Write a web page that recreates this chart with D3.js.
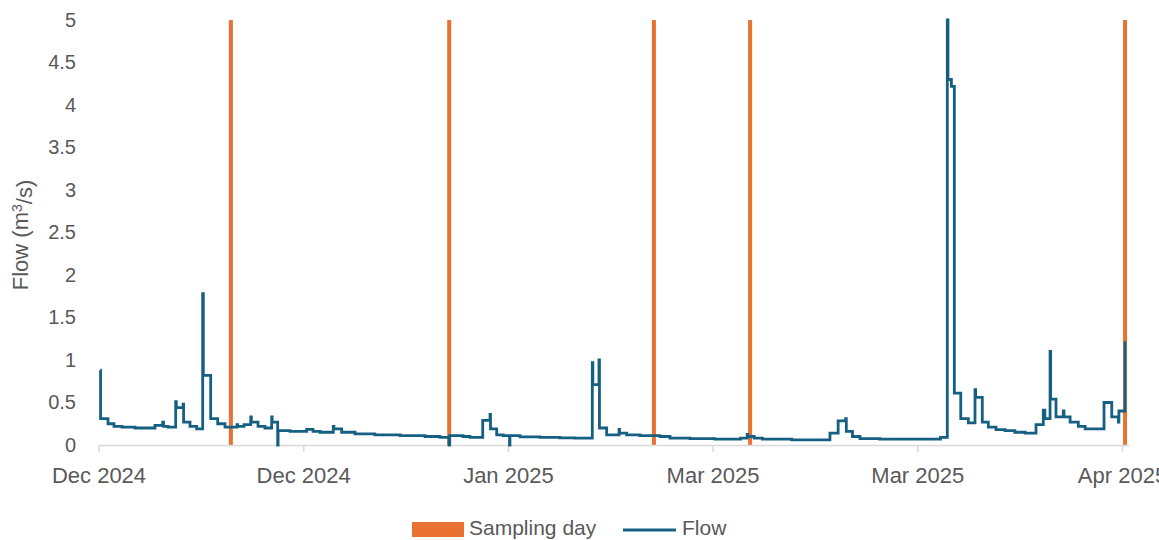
<!DOCTYPE html>
<html>
<head>
<meta charset="utf-8">
<script src="https://cdn.jsdelivr.net/npm/d3@7"></script>
<style>
  html, body { margin: 0; padding: 0; background: #fff; overflow: hidden; }
  svg { display: block; }
  text { font-family: "Liberation Sans", Arial, sans-serif; fill: #595959; }
</style>
</head>
<body>
<svg id="chart" width="1159" height="540"></svg>
<script>
// ---- data ----
const startDate = "2024-12-01";
const endDate = "2025-05-01";
const tickDates = ["2024-12-01", "2024-12-31", "2025-01-30", "2025-03-01", "2025-03-31", "2025-04-30"];
const yTicks = [0, 0.5, 1, 1.5, 2, 2.5, 3, 3.5, 4, 4.5, 5];
// sampling days (days since startDate)
const samplingDays = [19.4, 51.4, 81.4, 95.5, 150.45];
const samplingValues = [5, 5, 5, 5, 5];
// flow step series (days since startDate, m3/s)
const flowDays = [
  0.26, 0.30, 1.39, 2.27, 3.44, 5.35, 8.28, 9.41, 9.53, 10.19,
  11.31, 11.40, 12.40, 12.47, 13.41, 14.39, 15.27, 15.36, 16.44, 17.47,
  18.54, 20.30, 20.40, 21.33, 22.31, 22.40, 23.38, 24.40, 25.38, 25.45,
  26.26, 26.32, 28.07, 30.51, 31.44, 32.47, 34.41, 34.50, 35.64, 37.60,
  40.50, 44.20, 47.85, 50.05, 51.37, 51.45, 53.42, 54.44, 56.31, 57.38,
  57.45, 58.36, 59.30, 60.24, 60.30, 61.78, 64.70, 67.60, 69.80, 72.37,
  72.45, 73.35, 73.42, 74.48, 76.29, 76.36, 77.41, 79.36, 82.29, 83.76,
  86.69, 90.35, 94.10, 95.07, 95.15, 96.10, 97.30, 101.60, 107.20, 108.40,
  109.50, 109.60, 110.50, 111.60, 114.50, 118.90, 123.40, 124.40, 124.50, 125.00,
  125.43, 126.37, 127.48, 128.46, 128.55, 129.53, 130.41, 131.54, 132.86, 134.30,
  135.80, 137.40, 138.47, 138.70, 139.46, 139.55, 140.33, 141.40, 141.50, 142.40,
  143.60, 144.60, 147.37, 148.50, 149.47, 149.55, 150.45
];
const flowValues = [
  0.88, 0.31, 0.25, 0.22, 0.21, 0.20, 0.23, 0.27, 0.22, 0.21,
  0.51, 0.44, 0.48, 0.27, 0.22, 0.19, 1.78, 0.82, 0.31, 0.25,
  0.21, 0.24, 0.22, 0.24, 0.33, 0.27, 0.22, 0.20, 0.33, 0.27,
  0.00, 0.17, 0.16, 0.185, 0.16, 0.15, 0.22, 0.19, 0.15, 0.13,
  0.12, 0.11, 0.10, 0.09, 0.00, 0.11, 0.10, 0.09, 0.29, 0.36,
  0.19, 0.12, 0.11, 0.00, 0.11, 0.095, 0.09, 0.085, 0.08, 0.97,
  0.71, 1.00, 0.20, 0.12, 0.185, 0.14, 0.12, 0.11, 0.10, 0.08,
  0.075, 0.07, 0.08, 0.125, 0.10, 0.08, 0.07, 0.06, 0.14, 0.285,
  0.31, 0.16, 0.10, 0.075, 0.07, 0.07, 0.09, 5.00, 4.30, 4.22,
  0.61, 0.31, 0.26, 0.65, 0.56, 0.27, 0.21, 0.18, 0.17, 0.15,
  0.14, 0.24, 0.41, 0.31, 1.10, 0.54, 0.33, 0.40, 0.33, 0.27,
  0.22, 0.19, 0.50, 0.33, 0.27, 0.40, 1.22
];

// ---- setup ----
const parse = d3.utcParse("%Y-%m-%d");
const DAY = 86400000;
const t0 = parse(startDate);
const toDate = d => new Date(t0.getTime() + d * DAY);

const svg = d3.select("#chart");
const x = d3.scaleUtc().domain([t0, parse(endDate)]).range([98.5, 1128.8]);
const y = d3.scaleLinear().domain([0, 5]).range([445, 20]);

// sampling bars
const barW = 4;
svg.append("g").selectAll("rect")
  .data(samplingDays.map((d, i) => ({ d: toDate(d), v: samplingValues[i] })))
  .join("rect")
  .attr("x", d => x(d.d) - barW / 2)
  .attr("y", d => y(d.v))
  .attr("width", barW)
  .attr("height", d => y(0) - y(d.v))
  .attr("fill", "#E97132");

// x axis
const xAxis = d3.axisBottom(x)
  .tickValues(tickDates.map(parse))
  .tickFormat(d3.utcFormat("%b %Y"))
  .tickSize(7)
  .tickSizeOuter(0);
const gx = svg.append("g").attr("transform", `translate(0,${y(0)})`).call(xAxis);
gx.select(".domain").attr("stroke", "#D9D9D9").attr("stroke-width", 1.5);
gx.selectAll(".tick line").attr("stroke", "#D9D9D9").attr("stroke-width", 1.5);
gx.selectAll(".tick text")
  .attr("y", 22)
  .attr("dy", "0.71em")
  .style("font-size", "22px")
  .style("font-family", "'Liberation Sans', Arial, sans-serif")
  .attr("fill", "#595959");

// y axis (labels only)
const yAxis = d3.axisLeft(y).tickValues(yTicks).tickFormat(d3.format("")).tickSize(0);
const gy = svg.append("g").attr("transform", "translate(76,0)").call(yAxis);
gy.select(".domain").remove();
gy.selectAll(".tick text")
  .attr("x", 0)
  .style("font-size", "20px")
  .style("font-family", "'Liberation Sans', Arial, sans-serif")
  .attr("fill", "#595959");

// flow line
const line = d3.line()
  .x((d, i) => x(toDate(flowDays[i])))
  .y(d => y(d))
  .curve(d3.curveStepAfter);
svg.append("path")
  .datum(flowValues)
  .attr("d", line)
  .attr("fill", "none")
  .attr("stroke", "#156082")
  .attr("stroke-width", 2.8)
  .attr("stroke-linejoin", "miter")
  .attr("stroke-linecap", "butt");

// y axis title
const title = svg.append("text")
  .attr("transform", "translate(28,235) rotate(-90)")
  .attr("text-anchor", "middle")
  .style("font-size", "22px");
title.append("tspan").text("Flow (m");
title.append("tspan").text("3").attr("dy", "-0.45em").style("font-size", "14px");
title.append("tspan").text("/s)").attr("dy", "0.45em");

// legend
const lg = svg.append("g");
lg.append("rect").attr("x", 412).attr("y", 522).attr("width", 52).attr("height", 15).attr("fill", "#E97132");
lg.append("text").attr("x", 469).attr("y", 535).style("font-size", "21px").text("Sampling day");
lg.append("line").attr("x1", 623).attr("x2", 676).attr("y1", 530).attr("y2", 530)
  .attr("stroke", "#156082").attr("stroke-width", 2.8);
lg.append("text").attr("x", 682).attr("y", 535).style("font-size", "21px").text("Flow");
</script>
</body>
</html>
